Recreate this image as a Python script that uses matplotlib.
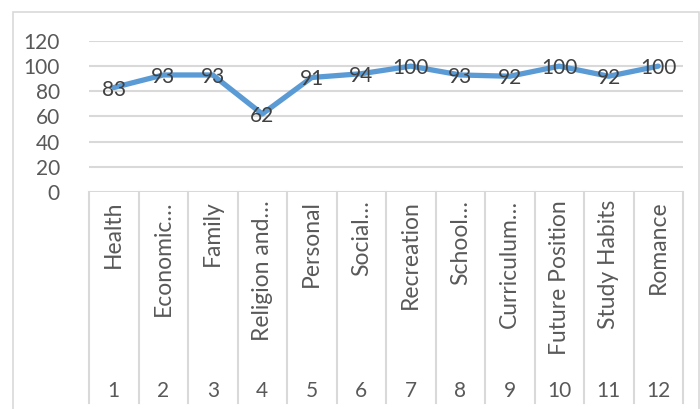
import matplotlib
matplotlib.use("Agg")
import matplotlib.pyplot as plt
from matplotlib.patches import Rectangle

categories = ["Health", "Economic…", "Family", "Religion and…", "Personal", "Social…",
              "Recreation", "School…", "Curriculum…", "Future Position", "Study Habits", "Romance"]
numbers = ["1", "2", "3", "4", "5", "6", "7", "8", "9", "10", "11", "12"]
values = [83, 93, 93, 62, 91, 94, 100, 93, 92, 100, 92, 100]
yticks = [0, 20, 40, 60, 80, 100, 120]

plt.rcParams['font.family'] = ['Lato', 'DejaVu Sans']
W, H = 700, 409
fig = plt.figure(figsize=(W / 100, H / 100), dpi=100)
ax = fig.add_axes([89 / W, 1 - 192 / H, (683 - 89) / W, (192 - 41) / H])

text_c = '#595959'
grid_c = '#D9D9D9'
fs = 15
fs_cat = 16.5

n = len(values)
x = [i + 0.5 for i in range(n)]
ax.plot(x, values, color='#5B9BD5', lw=3.8, solid_capstyle='round', solid_joinstyle='round', zorder=3)
for xi, v in zip(x, values):
    ax.text(xi, v, str(v), ha='center', va='center_baseline', fontsize=fs, color='#404040', zorder=4)

ax.set_xlim(0, n)
ax.set_ylim(0, 120)
ax.set_yticks(yticks)
ax.set_yticklabels([str(t) for t in yticks], fontsize=fs, color=text_c)
ax.tick_params(axis='y', length=0, pad=21)
ax.set_xticks([])
for t in yticks:
    ax.axhline(t, color=grid_c, lw=1.5, zorder=1)
for s in ax.spines.values():
    s.set_visible(False)

tr = ax.get_xaxis_transform()
ax_h = 192 - 41
def ay(py):
    return (192 - py) / ax_h

for i in range(n + 1):
    ax.plot([i, i], [0, ay(403)], color=grid_c, lw=1.5, transform=tr, clip_on=False, zorder=1)
for i, (c, num) in enumerate(zip(categories, numbers)):
    ax.text(i + 0.5, ay(200), c, rotation=90, ha='center', va='top', fontsize=fs_cat,
            color=text_c, transform=tr, clip_on=False)
    ax.text(i + 0.5, ay(391), num, ha='center', va='center', fontsize=fs,
            color=text_c, transform=tr, clip_on=False)

fig.add_artist(Rectangle((13 / W, -0.05), (699 - 13) / W, 1.05 - 12 / H,
                         transform=fig.transFigure, fill=False, edgecolor=grid_c, lw=1.2))

fig.savefig("out.png", dpi=100)
